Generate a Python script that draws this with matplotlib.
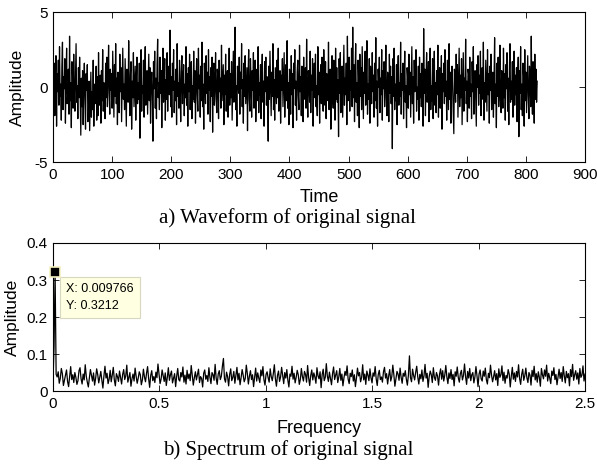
import numpy as np
import matplotlib
matplotlib.use("Agg")
import matplotlib.pyplot as plt

plt.rcParams['font.family'] = ['Liberation Sans', 'DejaVu Sans']
plt.rcParams['axes.unicode_minus'] = False

# waveform of the original signal, one sample per time step (0..819)
wave = [
    3.3, -0.8, 1.6, -1.9, 0.4, 2.1, -2.6, 0.9, -0.3, 1.8, -1.2, 2.7, -0.6, 0.2, -2.2, 1.4, 3.0, -1.5, 0.7, -0.1,
    1.9, -2.4, 0.5, 2.6, -1.1, -0.4, 1.2, -1.8, 3.4, -0.9, 0.3, -2.7, 1.7, 0.8, -1.4, 2.2, -0.2, -1.6, 0.6, 2.9,
    -1.0, 0.1, -2.1, 1.3, -0.7, 2.0, -0.5, -3.2, 0.6, -1.3, 1.1, -2.5, 0.2, 1.6, -0.9, -2.8, 0.9, -0.2, 1.5, -2.3,
    -1.7, 0.4, -2.9, -0.8, 1.0, -2.0, -0.3, -1.5, 1.8, -2.6, 0.2, -1.1, -0.4, 1.4, -2.2, 0.7, -1.9, 2.3, -0.6, -1.2,
    0.8, -2.4, 1.1, -0.9, 2.5, -1.6, 0.3, -0.1, -2.1, 1.6, -0.7, 2.0, -1.3, 0.5, 2.8, -0.4, -1.8, 1.2, -0.2, 0.9,
    -1.4, 2.4, 0.1, -2.0, 1.5, -0.6, 2.9, -1.1, 0.6, -2.5, 1.0, 0.3, -1.7, 2.2, -0.3, 1.3, -2.3, 0.4, 2.6, -0.8,
    0.2, -1.5, 1.9, -0.5, -2.6, 1.2, 0.7, -1.0, 3.1, -0.2, -1.9, 0.9, 1.7, -2.8, 0.4, -0.7, 2.3, -1.3, 0.0, 1.4,
    -2.2, 0.6, 2.0, -1.1, 0.3, -0.8, 1.6, -3.4, 0.5, 2.5, -1.6, 0.1, -0.4, 1.8, -2.0, 0.8, 2.7, -1.2, -0.3, 1.1,
    -1.8, 0.4, 2.2, -0.9, 1.3, -2.4, 0.2, 1.0, -0.6, -3.6, 1.7, -0.1, 2.4, -1.4, 0.6, -2.1, 1.5, 3.2, -0.7, 0.3,
    -1.5, 2.0, -0.4, 1.1, -2.7, 0.8, 2.6, -1.0, 0.1, 1.9, -2.2, 0.5, -0.8, 2.3, -1.6, 0.9, 1.4, -0.5, 3.8, -1.3,
    0.7, -2.0, 1.6, -0.2, 2.5, -1.7, 0.4, -0.9, 1.2, -2.5, 2.9, -0.6, 0.3, -1.4, 1.8, 0.0, -2.3, 1.0, 2.1, -1.1,
    0.6, 1.5, -1.9, 0.2, -0.7, 2.7, -1.2, 0.9, -2.6, 1.3, -0.3, 2.2, -1.5, 0.5, 1.7, -2.1, 0.1, -0.8, 2.4, -1.0,
    1.1, -2.4, 0.3, 1.9, -0.5, -1.6, 2.6, -0.1, 0.8, -2.0, 1.4, -0.9, 3.0, -1.3, 0.2, -2.8, 1.6, 0.4, -1.1, 2.1,
    -0.4, 1.0, -1.8, 2.5, -0.2, 0.7, -2.3, 1.3, -0.6, 2.0, -3.0, 0.9, 1.6, -1.2, 0.1, 2.3, -0.8, -1.7, 1.2, 0.5,
    -2.1, 1.8, -0.3, 0.6, -1.4, 2.8, -0.9, 0.2, 1.5, -2.5, 0.8, -0.5, 2.2, -1.6, 0.4, 1.1, -2.0, 0.0, 2.6, -1.2,
    0.9, -0.7, 1.7, -2.2, 0.3, 2.4, -1.0, 0.6, 4.0, -1.5, 0.1, -2.6, 1.4, 0.7, -0.4, 2.0, -1.8, 1.0, -0.1, 2.9,
    -1.3, 0.5, -2.4, 1.6, -0.6, 2.1, -1.1, 0.2, 1.3, -2.9, 0.8, 2.5, -0.8, -1.6, 1.9, 0.4, -2.0, 1.1, -0.2, 2.3,
    -1.4, 0.6, 1.8, -2.3, 0.0, 1.2, -0.9, 2.7, -1.7, 0.3, -0.5, 1.5, -2.1, 0.9, 2.2, -1.0, 0.4, -2.6, 1.7, -0.3,
    2.0, -1.2, 0.7, -0.4, -3.6, 1.4, -0.8, 2.4, 0.1, -1.9, 1.0, -0.6, 2.9, -1.5, 0.5, -2.2, 1.3, 0.2, -1.1, 1.8,
    -0.7, 2.6, -1.6, 0.4, 1.1, -2.4, 0.8, -0.2, 1.9, -1.3, 0.6, 2.3, -2.0, 0.0, 1.5, -0.9, 3.1, -1.4, 0.3, -2.5,
    1.2, 0.5, -1.8, 2.1, -0.5, 0.9, -2.7, 1.6, -0.1, 2.5, -1.2, 0.4, -2.2, 1.0, 1.8, -0.6, -1.5, 2.8, -0.3, 0.7,
    -1.9, 1.4, 0.2, -2.3, 2.0, -0.8, 0.6, 1.3, -1.4, 3.2, -0.4, -2.0, 1.1, 0.3, -1.0, 2.4, -1.7, 0.8, -0.2, 1.9,
    -2.6, 0.5, 1.6, -0.7, 2.2, -1.3, 0.1, -1.9, 2.7, -0.5, 1.0, -2.4, 0.7, 1.5, -1.1, 2.0, -0.3, -1.6, 2.5, 0.4,
    -1.2, 1.7, -2.1, 0.9, 0.2, -0.9, 3.0, -1.5, 0.6, 1.2, -2.8, 0.3, 2.1, -0.6, -1.4, 1.8, 0.0, -2.2, 2.6, -0.8,
    1.3, -1.0, 0.5, -3.3, 1.9, -0.4, 2.3, -1.7, 0.8, 1.4, -2.0, 0.2, 2.8, -1.2, 0.6, -0.5, 1.6, -2.5, 3.4, -0.9,
    0.4, 2.0, -1.6, 1.1, -0.2, 2.6, -1.3, 4.0, -0.7, 1.5, -2.3, 0.9, 2.9, -1.0, 0.3, -1.9, 1.8, 0.6, -2.7, 2.2,
    -0.6, 1.3, -1.5, 2.7, 0.1, -2.1, 1.0, -0.4, 2.4, -1.2, 0.7, 3.1, -1.8, 0.2, -0.8, 1.9, -2.4, 1.4, 0.5, -1.1,
    2.3, -0.3, 0.8, -2.0, 1.6, -0.9, 3.3, -1.4, 0.4, -2.6, 1.2, 0.0, 2.0, -1.7, 0.6, -0.5, 2.5, -2.2, 1.1, -0.1,
    1.7, -1.3, 0.3, 2.8, -0.7, -1.9, 1.0, 0.5, -2.3, 2.2, -0.4, 1.4, -1.1, 0.7, -4.1, 1.9, -0.6, 2.6, -1.5, 0.2,
    -0.9, 1.5, -2.5, 0.8, 2.1, -1.2, 0.3, -0.6, 3.0, -1.8, 0.9, -0.2, 1.6, -2.1, 0.5, 2.4, -1.0, 0.1, -2.7, 1.3,
    0.6, -1.4, 2.2, -0.5, 1.0, -2.0, 0.2, 2.7, -1.1, 0.7, -2.4, 1.8, -0.3, 0.4, 2.5, -1.6, 0.0, -0.8, 1.4, -2.2,
    2.0, -0.7, 0.9, -1.3, 1.6, 0.3, -2.6, 3.9, -0.4, 1.2, -1.9, 0.5, 2.3, -1.0, -0.2, 1.7, -2.3, 0.8, 2.6, -1.5,
    0.1, -0.9, 1.9, -2.1, 0.6, 2.4, -1.2, 0.3, -1.7, 1.1, -0.5, 2.8, -2.0, 0.7, 1.3, -1.4, 0.0, 2.1, -2.8, 0.9,
    -0.3, 1.6, -1.1, 2.5, -0.6, 0.4, -2.2, 1.8, 0.2, -1.5, 2.9, -0.8, 1.0, -2.4, 0.5, 1.4, -0.1, -1.8, -3.1, 1.2,
    0.7, -1.0, 2.2, -0.4, 1.5, -2.0, 0.3, 2.6, -1.3, 0.8, -0.7, 1.9, -2.5, 0.1, 2.3, -1.6, 0.6, -0.2, 3.2, -1.1,
    0.4, -2.3, 1.2, 0.9, -1.4, 2.0, -0.6, 0.2, -2.1, 1.7, -0.3, 2.7, -1.8, 0.5, 1.1, -0.9, -2.6, 1.5, 0.0, 2.1,
    -1.2, 0.8, -0.4, 2.4, -1.9, 0.6, 1.3, -0.8, 3.0, -2.2, 0.3, -1.0, 1.8, 0.1, -1.6, 2.5, -0.5, 0.9, -2.4, 1.4,
    -0.2, 2.2, -1.5, 0.7, 1.0, -2.0, 0.4, 3.3, -1.1, 0.2, -2.7, 1.6, -0.6, 2.0, -1.3, 0.5, 2.8, -0.9, -1.7, 1.1,
    0.3, -1.4, 2.6, -0.7, 0.9, -2.2, 1.5, -0.1, 2.3, -1.6, 0.6, -2.5, 1.2, 2.9, -1.0, 0.4, -0.8, 1.7, -2.0, 0.0,
    2.4, -1.2, 0.8, -0.5, 1.3, -2.3, 0.5, 2.0, -3.3, 1.1, -0.4, 2.7, -1.5, 0.2, -1.9, 1.6, 0.7, -2.6, 2.5, -0.9,
    1.0, -1.7, 0.3, 2.1, -0.6, -2.1, 1.4, 0.6, -1.3, 3.4, -0.2, -1.8, 1.7, 0.1, -2.4, 2.2, -0.8, 1.2, -1.0, 0.4,
]

# amplitude spectrum from 0 to 2.5, bin width 2.5/512
df = 2.5 / 512
spec = [
    0.028, 0.120, 0.3212, 0.045,
    0.038, 0.052, 0.021, 0.034, 0.061, 0.047, 0.015, 0.029, 0.043, 0.057, 0.026, 0.012, 0.039, 0.066, 0.031, 0.044, 0.023, 0.050, 0.037, 0.018,
    0.028, 0.055, 0.063, 0.033, 0.019, 0.046, 0.030, 0.071, 0.040, 0.024, 0.011, 0.036, 0.058, 0.042, 0.027, 0.049, 0.016, 0.034, 0.060, 0.045,
    0.022, 0.038, 0.053, 0.029, 0.008, 0.041, 0.067, 0.035, 0.048, 0.020, 0.032, 0.056, 0.025, 0.043, 0.064, 0.030, 0.014, 0.047, 0.039, 0.026,
    0.054, 0.036, 0.019, 0.045, 0.058, 0.031, 0.041, 0.070, 0.024, 0.037, 0.050, 0.013, 0.033, 0.046, 0.027, 0.062, 0.040, 0.021, 0.035, 0.052,
    0.044, 0.017, 0.030, 0.059, 0.038, 0.025, 0.048, 0.066, 0.034, 0.010, 0.042, 0.055, 0.028, 0.039, 0.023, 0.051, 0.036, 0.073, 0.045, 0.020,
    0.032, 0.057, 0.041, 0.026, 0.049, 0.015, 0.037, 0.063, 0.029, 0.044, 0.054, 0.022, 0.035, 0.047, 0.012, 0.040, 0.061, 0.031, 0.027, 0.050,
    0.038, 0.065, 0.024, 0.043, 0.019, 0.056, 0.033, 0.046, 0.028, 0.069, 0.041, 0.016, 0.036, 0.052, 0.030, 0.045, 0.059, 0.023, 0.039, 0.034,
    0.011, 0.048, 0.057, 0.032, 0.042, 0.026, 0.063, 0.037, 0.020, 0.050, 0.044, 0.029, 0.072, 0.035, 0.018, 0.046, 0.055, 0.031, 0.040, 0.067,
    0.088, 0.033, 0.024, 0.051, 0.039, 0.014, 0.045, 0.060, 0.028, 0.037, 0.053, 0.021, 0.042, 0.064, 0.030, 0.048, 0.017, 0.036, 0.058, 0.043,
    0.025, 0.034, 0.070, 0.047, 0.019, 0.040, 0.055, 0.031, 0.044, 0.012, 0.038, 0.062, 0.027, 0.049, 0.035, 0.023, 0.057, 0.041, 0.066, 0.030,
    0.016, 0.045, 0.052, 0.036, 0.024, 0.060, 0.039, 0.028, 0.047, 0.071, 0.033, 0.013, 0.042, 0.054, 0.026, 0.038, 0.064, 0.043, 0.020, 0.050,
    0.035, 0.058, 0.029, 0.011, 0.046, 0.040, 0.067, 0.032, 0.048, 0.022, 0.037, 0.056, 0.044, 0.018, 0.031, 0.061, 0.039, 0.027, 0.053, 0.045,
    0.024, 0.069, 0.036, 0.015, 0.042, 0.057, 0.030, 0.049, 0.038, 0.021, 0.063, 0.041, 0.033, 0.052, 0.009, 0.044, 0.059, 0.028, 0.037, 0.074,
    0.040, 0.026, 0.051, 0.034, 0.017, 0.047, 0.065, 0.031, 0.043, 0.055, 0.023, 0.038, 0.061, 0.029, 0.046, 0.014, 0.036, 0.053, 0.042, 0.068,
    0.032, 0.020, 0.048, 0.039, 0.057, 0.027, 0.044, 0.012, 0.035, 0.062, 0.041, 0.050, 0.025, 0.037, 0.071, 0.030, 0.046, 0.018, 0.054, 0.043,
    0.028, 0.060, 0.036, 0.022, 0.049, 0.040, 0.066, 0.033, 0.015, 0.045, 0.056, 0.031, 0.038, 0.024, 0.052, 0.064, 0.035, 0.047, 0.019, 0.041,
    0.058, 0.027, 0.039, 0.070, 0.044, 0.013, 0.034, 0.053, 0.046, 0.029, 0.062, 0.037, 0.021, 0.048, 0.040, 0.055, 0.032, 0.016, 0.043, 0.095,
    0.036, 0.025, 0.059, 0.042, 0.030, 0.051, 0.067, 0.038, 0.019, 0.045, 0.033, 0.057, 0.026, 0.041, 0.072, 0.035, 0.048, 0.010, 0.039, 0.054,
    0.044, 0.023, 0.063, 0.037, 0.029, 0.050, 0.041, 0.016, 0.046, 0.060, 0.032, 0.055, 0.027, 0.043, 0.069, 0.038, 0.020, 0.049, 0.034, 0.058,
    0.031, 0.045, 0.014, 0.052, 0.040, 0.065, 0.036, 0.024, 0.047, 0.056, 0.030, 0.042, 0.073, 0.039, 0.018, 0.053, 0.035, 0.061, 0.028, 0.044,
    0.050, 0.022, 0.038, 0.066, 0.041, 0.012, 0.046, 0.057, 0.033, 0.027, 0.054, 0.040, 0.062, 0.031, 0.019, 0.048, 0.036, 0.070, 0.043, 0.025,
    0.039, 0.055, 0.030, 0.047, 0.015, 0.060, 0.037, 0.044, 0.068, 0.028, 0.051, 0.021, 0.042, 0.035, 0.058, 0.046, 0.011, 0.040, 0.064, 0.032,
    0.049, 0.026, 0.053, 0.038, 0.071, 0.034, 0.018, 0.045, 0.059, 0.029, 0.041, 0.062, 0.036, 0.023, 0.050, 0.043, 0.016, 0.056, 0.039, 0.067,
    0.030, 0.047, 0.024, 0.052, 0.037, 0.013, 0.061, 0.044, 0.033, 0.057, 0.040, 0.070, 0.027, 0.048, 0.035, 0.020, 0.054, 0.042, 0.063, 0.031,
    0.045, 0.017, 0.038, 0.059, 0.034, 0.050, 0.026, 0.066, 0.041, 0.022, 0.053, 0.036, 0.047, 0.014, 0.058, 0.039, 0.072, 0.029, 0.044, 0.055,
    0.032, 0.049, 0.019, 0.061, 0.037, 0.043, 0.068, 0.027, 0.046,
]

tip_x, tip_y = 0.009766, 0.3212

t = np.arange(len(wave))
freq = np.arange(len(spec)) * df

fig = plt.figure(figsize=(5.97, 4.70), dpi=100)
ax1 = fig.add_axes([0.0888, 0.655, 0.8912, 0.319])
ax2 = fig.add_axes([0.0888, 0.168, 0.8912, 0.315])

for ax in (ax1, ax2):
    ax.tick_params(direction='in', top=True, right=True, length=4, width=0.6, labelsize=11, pad=4)
    for s in ax.spines.values():
        s.set_linewidth(0.8)

# a) waveform
ax1.plot(t, wave, color='k', lw=0.9)
ax1.set_xlim(0, 900)
ax1.set_ylim(-5, 5)
ax1.set_xticks(np.arange(0, 901, 100))
ax1.set_yticks([-5, 0, 5])
ax1.set_xlabel('Time', fontsize=13, labelpad=5)
ax1.set_ylabel('Amplitude', fontsize=12.5)
ax1.yaxis.set_label_coords(-0.052, 0.5)

# b) spectrum
ax2.plot(freq, spec, color='k', lw=0.9)
ax2.set_xlim(0, 2.5)
ax2.set_ylim(0, 0.4)
ax2.set_xticks([0, 0.5, 1, 1.5, 2, 2.5])
ax2.set_xticklabels(['0', '0.5', '1', '1.5', '2', '2.5'])
ax2.set_yticks([0, 0.1, 0.2, 0.3, 0.4])
ax2.set_yticklabels(['0', '0.1', '0.2', '0.3', '0.4'])
ax2.set_xlabel('Frequency', fontsize=13, labelpad=7)
ax2.set_ylabel('Amplitude', fontsize=12.5)
ax2.yaxis.set_label_coords(-0.063, 0.5)

# data tip
ax2.plot([tip_x], [tip_y], marker='s', ms=7, mfc='k', mec='#f5f0c0', mew=1.2, clip_on=False, zorder=5)
ax2.annotate('X: %g\nY: %g' % (tip_x, tip_y), xy=(tip_x, tip_y), xytext=(8, -8),
             textcoords='offset points', ha='left', va='top', fontsize=9, linespacing=1.5,
             bbox=dict(boxstyle='square,pad=0.5', fc='#ffffe1', ec='#d8d8c0', lw=0.8))

fig.text(0.482, 0.536, 'a) Waveform of original signal', ha='center', va='center',
         family=['Liberation Serif', 'DejaVu Serif'], fontsize=15)
fig.text(0.482, 0.043, 'b) Spectrum of original signal', ha='center', va='center',
         family=['Liberation Serif', 'DejaVu Serif'], fontsize=15)

fig.savefig('out.png', dpi=100)
